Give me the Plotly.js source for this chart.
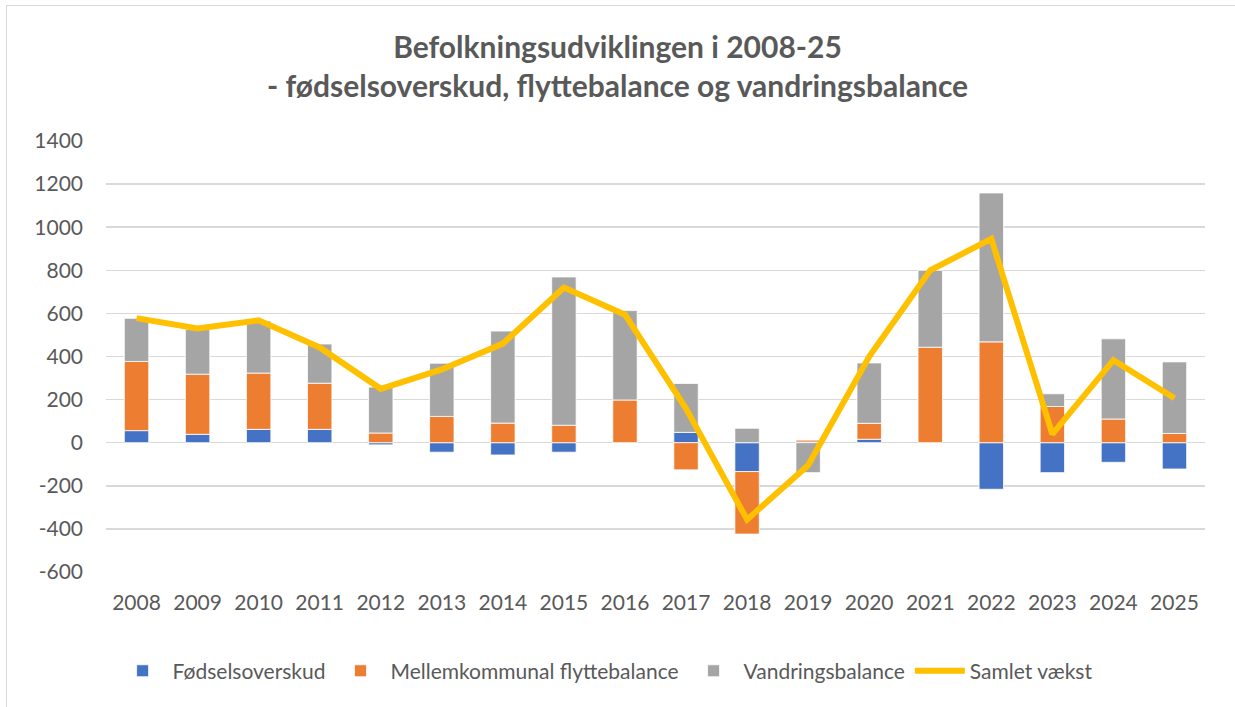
<!DOCTYPE html>
<html>
<head>
<meta charset="utf-8">
<script src="https://cdn.plot.ly/plotly-3.0.1.min.js"></script>
<style>
  html, body { margin: 0; padding: 0; background: #ffffff; }
  #wrap { position: relative; width: 1235px; height: 707px; overflow: hidden; }
  #frame { position: absolute; left: 6px; top: 5px; width: 1240px; height: 720px; border: 1.5px solid #d9d9d9; box-sizing: border-box; pointer-events: none; }
  #chart { position: absolute; left: 0; top: 0; width: 1235px; height: 707px; }
</style>
</head>
<body>
<div id="wrap">
  <div id="chart"></div>
  <div id="frame"></div>
</div>
<script>
const years = ["2008","2009","2010","2011","2012","2013","2014","2015","2016","2017","2018","2019","2020","2021","2022","2023","2024","2025"];
const fodselsoverskud = [56, 39, 62, 62, -10, -44, -57, -44, 0, 48, -134, 3, 16, 0, -216, -139, -91, -122];
const flyttebalance   = [321, 279, 261, 214, 45, 122, 91, 81, 198, -126, -290, 9, 74, 443, 468, 168, 110, 43];
const vandringsbalance = [200, 207, 242, 182, 213, 247, 427, 688, 415, 227, 67, -139, 280, 357, 691, 59, 372, 332];
const samletVaekst    = [578, 530, 568, 442, 250, 340, 460, 720, 594, 158, -357, -105, 400, 800, 946, 40, 383, 206];
const yTickValues = [-600, -400, -200, 0, 200, 400, 600, 800, 1000, 1200, 1400];
const yTickLabels = ["-600", "-400", "-200", "0", "200", "400", "600", "800", "1000", "1200", "1400"];

const FONT = "Lato, 'Open Sans', sans-serif";
const TXT = "#595959";
const barLine = { color: "#ffffff", width: 0.8 };

const traces = [
  { type: "bar", name: "Fødselsoverskud", x: years, y: fodselsoverskud,
    marker: { color: "#4472C4", line: barLine } },
  { type: "bar", name: "Mellemkommunal flyttebalance", x: years, y: flyttebalance,
    marker: { color: "#ED7D31", line: barLine } },
  { type: "bar", name: "Vandringsbalance", x: years, y: vandringsbalance,
    marker: { color: "#A5A5A5", line: barLine } },
  { type: "scatter", mode: "lines", name: "Samlet vækst", x: years, y: samletVaekst,
    line: { color: "#FFC000", width: 6 } }
];

const layout = {
  width: 1235, height: 707,
  paper_bgcolor: "rgba(0,0,0,0)", plot_bgcolor: "#ffffff",
  margin: { l: 106, r: 30, t: 141, b: 135 },
  font: { family: FONT, color: TXT, size: 21 },
  title: {
    text: "<b>Befolkningsudviklingen i 2008-25</b><br><b>- fødselsoverskud, flyttebalance og vandringsbalance</b>",
    font: { family: FONT, size: 30, color: TXT },
    x: 0.5, xanchor: "center", y: 0.918, yanchor: "middle"
  },
  barmode: "relative",
  bargap: 0.6,
  xaxis: {
    type: "category", showgrid: false, zeroline: false, showline: false,
    ticks: "", tickfont: { family: FONT, size: 21, color: TXT }, ticklabelstandoff: 16
  },
  yaxis: {
    range: [-600, 1400], tickmode: "array", tickvals: yTickValues, ticktext: yTickLabels,
    showgrid: true, gridcolor: "#d9d9d9", gridwidth: 1.5,
    zeroline: true, zerolinecolor: "#d9d9d9", zerolinewidth: 1.5, showline: false, ticks: "",
    tickfont: { family: FONT, size: 21, color: TXT }, ticklabelstandoff: 22
  },
  legend: {
    orientation: "h", x: 0.006, xanchor: "left", y: -0.23, yanchor: "middle",
    font: { family: FONT, size: 21, color: TXT }, itemwidth: 50, traceorder: "normal"
  },
  showlegend: true
};

Plotly.newPlot("chart", traces, layout, { displayModeBar: false, staticPlot: true });
</script>
</body>
</html>
